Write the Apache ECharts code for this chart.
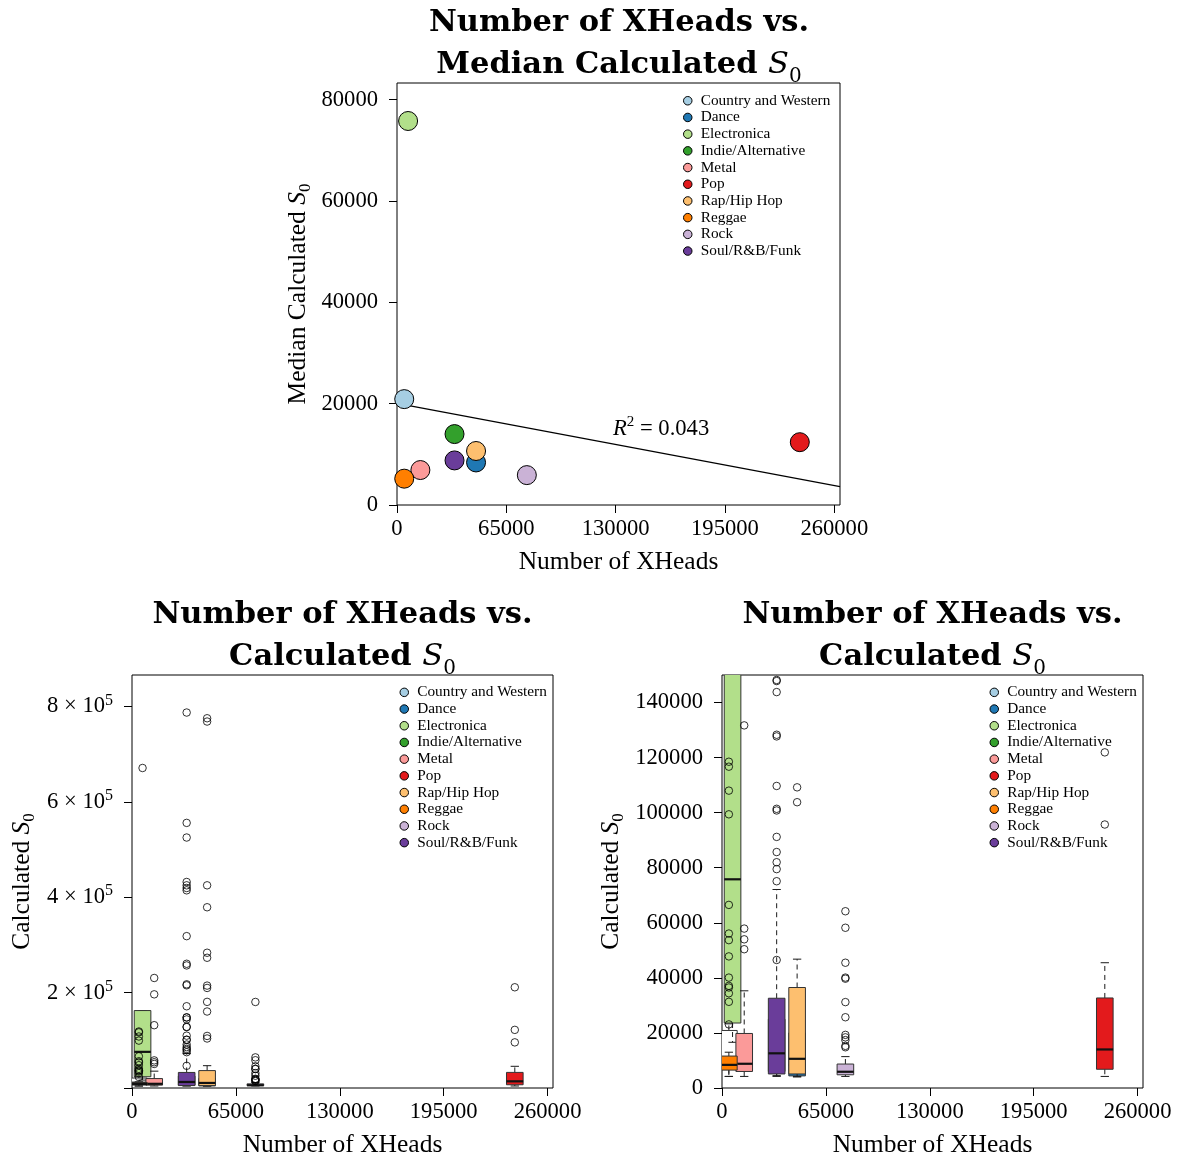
<!DOCTYPE html>
<html><head><meta charset="utf-8">
<script src="https://cdn.jsdelivr.net/npm/echarts@6/dist/echarts.min.js"></script>
<style>html,body{margin:0;padding:0;background:#fff}#c{width:1180px;height:1159px}</style>
</head><body><div id="c"></div>
<script>
// ---------------- DATA ----------------
const genres = ['Country and Western','Dance','Electronica','Indie/Alternative','Metal','Pop','Rap/Hip Hop','Reggae','Rock','Soul/R&B/Funk'];
const genreColors = ['#a6cee3','#1f78b4','#b2df8a','#33a02c','#fb9a99','#e31a1c','#fdbf6f','#ff7f00','#cab2d6','#6a3d9a'];
const boxFills = ['#ffffff','#1f78b4','#b2df8a','#33a02c','#fb9a99','#e31a1c','#fdbf6f','#ff7f00','#cab2d6','#6a3d9a'];
const numXHeads = [4300, 47000, 6600, 34200, 13900, 239500, 47000, 4300, 77200, 34200];
const medianS0  = [20900, 8400, 75800, 14000, 6900, 12400, 10660, 5200, 5900, 8800];

// box statistics per genre: min, Q1, median, Q3, max (whisker ends)
const boxMin    = [4200, 4000, 16600, 4500, 4200, 4200, 4200, 4200, 4200, 4200];
const boxQ1     = [7000, 4400, 23600, 6000, 6000, 6800, 5100, 6500, 4800, 5100];
const boxMedian = [11000, 8400, 75800, 14000, 8800, 14000, 10600, 8400, 5900, 12600];
const boxQ3     = [20900, 20000, 162400, 25000, 19800, 32700, 36500, 11600, 8700, 32600];
const boxMax    = [23300, 30000, 162400, 31000, 35300, 45500, 46800, 13000, 11400, 72100];

// outliers per genre
const outCountry     = [];
const outDance       = [768400, 273100, 209800, 103800];
const outElectronica = [671000];
const outIndie       = [525200, 425000, 414500, 257000, 215300, 147800, 127700, 100800, 46500];
const outMetal       = [230700, 196400, 131700, 57900, 54000, 50400];
const outPop         = [211200, 121900, 95700];
const outRap         = [775300, 425000, 379000, 283600, 214700, 180600, 160400, 109200];
const outReggae      = [118500, 116700, 108000, 99400, 66500, 56100, 53700, 47800, 40100, 37100, 36500, 34400, 31300, 23100];
const outRock        = [180400, 64200, 58200, 45500, 40100, 39700, 31200, 25700, 19300, 18400, 17400, 15300, 14800];
const outSoul        = [787300, 555900, 432000, 419400, 318400, 260500, 217400, 171400, 148200, 143800, 128300, 109700, 101400, 91200, 85700, 82000, 79500, 75100];
const outliers = [outCountry, outDance, outElectronica, outIndie, outMetal, outPop, outRap, outReggae, outRock, outSoul];

// axes / ticks
const xTicks = [0, 65000, 130000, 195000, 260000];
const yTicksTop = [0, 20000, 40000, 60000, 80000];
const yTicksFullTicks = [0, 200000, 400000, 600000, 800000];
const yTicksFullLabels = [200000, 400000, 600000, 800000];
const yTicksZoom = [0, 20000, 40000, 60000, 80000, 100000, 120000, 140000];
const r2Text = '0.043';

// ---------------- STYLE / LAYOUT ----------------
const xAxisMax = 263400;
const yTopMax = 83300, yFullMax = 866000, yZoomMax = 150000;
const boxWidthUnits = 10400;
const SERIF = 'Liberation Serif';
const TITLEF = 'DejaVu Serif';
const tickFont = 22.6, nameFont = 25.5, legendFont = 15.3;

// regression fit from the data
const n = numXHeads.length;
const mx = numXHeads.reduce((a,b)=>a+b,0)/n, my = medianS0.reduce((a,b)=>a+b,0)/n;
let sxy = 0, sxx = 0;
for (let i=0;i<n;i++){ sxy += (numXHeads[i]-mx)*(medianS0[i]-my); sxx += (numXHeads[i]-mx)**2; }
const slope = sxy/sxx, intercept = my - slope*mx;
const fitLine = [[0, intercept], [xAxisMax, intercept + slope*xAxisMax]];

const chart = echarts.init(document.getElementById('c'), null, {renderer:'canvas'});

function xAxisCfg(gi){
  return {
    type:'value', gridIndex: gi, min:0, max:xAxisMax,
    name:'Number of XHeads', nameLocation:'middle', nameGap: 44,
    nameTextStyle:{fontFamily:SERIF, fontSize:nameFont, color:'#000'},
    axisLine:{show:false}, splitLine:{show:false},
    axisTick:{show:true, length:8, lineStyle:{color:'#000', width:1}, customValues: xTicks},
    axisLabel:{fontFamily:SERIF, fontSize:tickFont, color:'#000', margin:13, customValues: xTicks, formatter: v=>String(v)}
  };
}
function yNameRich(){
  return {
    t:{fontFamily:SERIF, fontSize:nameFont, color:'#000', lineHeight:32},
    i:{fontFamily:SERIF, fontSize:nameFont, fontStyle:'italic', color:'#000', lineHeight:32},
    s:{fontFamily:SERIF, fontSize:17, color:'#000', lineHeight:18, verticalAlign:'bottom'}
  };
}
function yAxisCfg(gi, max, ticks, labels, label, gap, formatter){
  return {
    type:'value', gridIndex: gi, min:0, max:max,
    name: label, nameLocation:'middle', nameGap: gap,
    nameTextStyle:{rich: yNameRich()},
    axisLine:{show:false}, splitLine:{show:false},
    axisTick:{show:true, length:8, lineStyle:{color:'#000', width:1}, customValues: ticks},
    axisLabel:{fontFamily:SERIF, fontSize:tickFont, color:'#000', margin:19, customValues: labels,
      formatter: formatter,
      rich:{ b:{fontFamily:SERIF, fontSize:tickFont, color:'#000', lineHeight:28},
             sup:{fontFamily:SERIF, fontSize:16, color:'#000', lineHeight:16, verticalAlign:'top'} }}
  };
}

const grids = [
  {left:397, top:83, width:443, height:422},
  {left:132, top:675, width:421, height:414},
  {left:722, top:675, width:421, height:414}
].map(g => Object.assign({show:true, borderColor:'#000', borderWidth:1, backgroundColor:'transparent'}, g));

function boxRender(params, api){
  const x = api.value(0);
  const vMin = api.value(1), vQ1 = api.value(2), vMd = api.value(3), vQ3 = api.value(4), vMax = api.value(5);
  const gi = api.value(6);
  const pMin = api.coord([x, vMin]), pQ1 = api.coord([x, vQ1]), pMd = api.coord([x, vMd]);
  const pQ3 = api.coord([x, vQ3]), pMax = api.coord([x, vMax]);
  const hw = api.size([boxWidthUnits, 0])[0] / 2;
  const cx = pMd[0];
  const blk = '#1a1a1a';
  const children = [
    {type:'line', shape:{x1:cx, y1:pQ3[1], x2:cx, y2:pMax[1]}, style:{stroke:blk, lineWidth:1, lineDash:[5,4]}},
    {type:'line', shape:{x1:cx, y1:pQ1[1], x2:cx, y2:pMin[1]}, style:{stroke:blk, lineWidth:1, lineDash:[5,4]}},
    {type:'line', shape:{x1:cx-hw/2, y1:pMax[1], x2:cx+hw/2, y2:pMax[1]}, style:{stroke:blk, lineWidth:1}},
    {type:'line', shape:{x1:cx-hw/2, y1:pMin[1], x2:cx+hw/2, y2:pMin[1]}, style:{stroke:blk, lineWidth:1}},
    {type:'rect', shape:{x:cx-hw, y:pQ3[1], width:2*hw, height:pQ1[1]-pQ3[1]}, style:{fill:boxFills[gi], stroke:'#333', lineWidth:1}},
    {type:'line', shape:{x1:cx-hw, y1:pMd[1], x2:cx+hw, y2:pMd[1]}, style:{stroke:'#111', lineWidth:2.2}}
  ];
  return {type:'group', children};
}
const boxData = genres.map((g,i)=>[numXHeads[i], boxMin[i], boxQ1[i], boxMedian[i], boxQ3[i], boxMax[i], i]);
const outlierData = [];
genres.forEach((g,i)=>{ outliers[i].forEach(v=>outlierData.push([numXHeads[i], v])); });

const series = [];
series.push({type:'line', xAxisIndex:0, yAxisIndex:0, data: fitLine, showSymbol:false, symbol:'none',
  lineStyle:{color:'#000', width:1.2}, clip:true, z:1, silent:true});
genres.forEach((g,i)=>{
  series.push({type:'scatter', name:g, xAxisIndex:0, yAxisIndex:0, data:[[numXHeads[i], medianS0[i]]],
    symbol:'circle', symbolSize:19, z:3,
    itemStyle:{color:genreColors[i], borderColor:'#000', borderWidth:1, opacity:1}});
});
[1,2].forEach(ai=>{
  series.push({type:'custom', xAxisIndex:ai, yAxisIndex:ai, data: boxData, renderItem: boxRender,
    clip:true, z:2, encode:{x:0, y:[1,2,3,4,5]}});
  series.push({type:'scatter', xAxisIndex:ai, yAxisIndex:ai, data: outlierData, symbol:'circle', symbolSize:7.5,
    clip:true, z:4, itemStyle:{color:'rgba(0,0,0,0)', borderColor:'#000', borderWidth:1}});
});

function legendCfg(left, top){
  return {data: genres, orient:'vertical', left:left, top:top, padding:0, itemGap:0,
    itemWidth:16, itemHeight:8.5, icon:'circle', selectedMode:false,
    itemStyle:{borderColor:'#000', borderWidth:1},
    textStyle:{fontFamily:SERIF, fontSize:legendFont, color:'#000', lineHeight:16.7, padding:[0,0,0,0]}};
}

function titleRich(){
  return {
    b:{fontFamily:TITLEF, fontWeight:'bold', fontSize:30.5, color:'#000', lineHeight:42},
    i:{fontFamily:TITLEF, fontStyle:'italic', fontSize:30.5, color:'#000', lineHeight:42},
    s:{fontFamily:TITLEF, fontSize:20, color:'#000', lineHeight:28, verticalAlign:'bottom'}
  };
}
function titleText(cx, top, second){
  return {type:'text', x:cx, y:top, z:10,
    style:{text:'{b|Number of XHeads vs.}\n{b|' + second + ' }{i|S}{s|0}', align:'center', verticalAlign:'top', rich:titleRich()}};
}

const option = {
  animation:false,
  backgroundColor:'#fff',
  grid: grids,
  xAxis: [xAxisCfg(0), xAxisCfg(1), xAxisCfg(2)],
  yAxis: [
    yAxisCfg(0, yTopMax, yTicksTop, yTicksTop, '{t|Median Calculated }{i|S}{s|0}', 83, v=>String(v)),
    yAxisCfg(1, yFullMax, yTicksFullTicks, yTicksFullLabels, '{t|Calculated }{i|S}{s|0}', 94, v=>'{b|' + (v/1e5) + ' × 10}{sup|5}'),
    yAxisCfg(2, yZoomMax, yTicksZoom, yTicksZoom, '{t|Calculated }{i|S}{s|0}', 95, v=>String(v))
  ],
  legend: [legendCfg(683, 92.4), legendCfg(399.5, 684), legendCfg(989.5, 684)],
  series: series,
  graphic: [
    titleText(619, 2.5, 'Median Calculated'),
    titleText(342.5, 594.5, 'Calculated'),
    titleText(932.5, 594.5, 'Calculated'),
    {type:'text', x:613, y:429, z:10, style:{text:'{i|R}{sup|2}{t| = ' + r2Text + '}', align:'left', verticalAlign:'middle',
      rich:{ i:{fontFamily:SERIF, fontStyle:'italic', fontSize:22.6, color:'#000', lineHeight:28},
             sup:{fontFamily:SERIF, fontSize:15, color:'#000', lineHeight:16, verticalAlign:'top'},
             t:{fontFamily:SERIF, fontSize:22.6, color:'#000', lineHeight:28}}}}
  ]
};
chart.setOption(option);
</script></body></html>
